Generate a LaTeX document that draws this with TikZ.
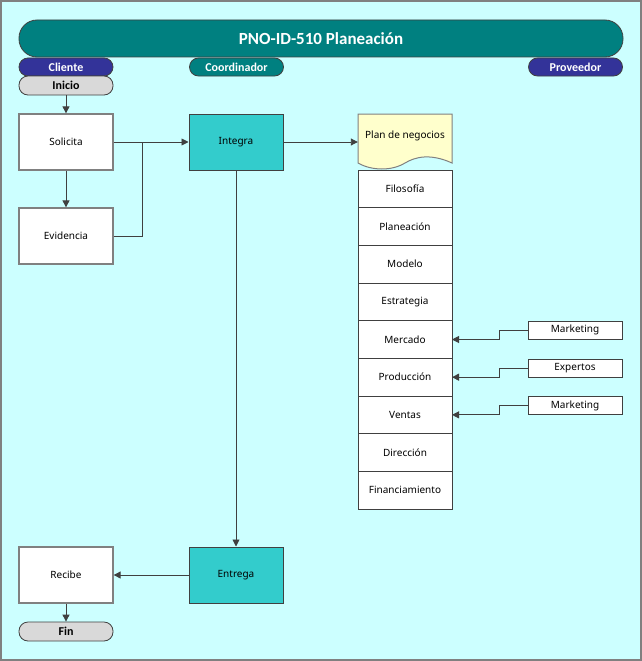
\documentclass[tikz,border=0pt]{standalone}
\usepackage{fontspec}
\setmainfont{Noto Sans}
\newfontfamily\calfont{Carlito}
\usetikzlibrary{arrows.meta}
\definecolor{bgc}{HTML}{CCFFFF}
\definecolor{tealc}{HTML}{008080}
\definecolor{navyc}{HTML}{333399}
\definecolor{cyanc}{HTML}{33CCCC}
\definecolor{grayc}{HTML}{D9D9D9}
\definecolor{yelc}{HTML}{FFFFCC}
\definecolor{linec}{HTML}{404040}
\definecolor{edgec}{HTML}{808080}
\tikzset{
  x=1pt, y=-1pt,
  txt/.style={font=\fontsize{10}{12}\selectfont, text=black},
  whitebox/.style={txt, draw=edgec, line width=1.3pt, fill=white, minimum width=94pt, minimum height=56pt, inner sep=0pt},
  cyanbox/.style={txt, draw=linec, line width=1pt, fill=cyanc, minimum width=94pt, minimum height=56pt, inner sep=0pt},
  rowbox/.style={txt, draw=linec, line width=0.8pt, fill=white, minimum width=94pt, minimum height=37.67pt, inner sep=0pt, outer sep=0pt},
  srcbox/.style={txt, draw=linec, line width=0.8pt, fill=white, minimum width=94pt, minimum height=18pt, inner sep=0pt},
  pill/.style={draw=linec, line width=0.8pt, rounded corners=9pt, minimum width=94pt, minimum height=18pt, inner sep=0pt, font=\calfont\bfseries\fontsize{12}{14}\selectfont},
  lanepill/.style={pill, text=white},
  termpill/.style={pill, fill=grayc, text=black, minimum height=19pt},
  conn/.style={draw=linec, line width=0.9pt},
  arr/.style={conn, -{Triangle[length=7pt,width=7pt]}},
}
\begin{document}
\begin{tikzpicture}
\useasboundingbox (0,0) rectangle (642,661);
\draw[draw=edgec, line width=1.5pt, fill=bgc] (1,1) rectangle (641,660);
% title
\node[draw=linec, line width=0.8pt, fill=tealc, rounded corners=18pt, minimum width=604pt, minimum height=37pt, inner sep=0pt, text=white, font=\calfont\bfseries\fontsize{17}{20}\selectfont] (title) at (321,38.5) {PNO-ID-510 Planeación};
% lanes
\node[lanepill, fill=navyc] (cliente) at (66,67) {Cliente};
\node[lanepill, fill=tealc] (coord) at (236.5,67) {Coordinador};
\node[lanepill, fill=navyc] (prov) at (575.5,67) {Proveedor};
\node[termpill] (inicio) at (66,85.5) {Inicio};
% process boxes
\node[whitebox] (solicita) at (66,142) {Solicita};
\node[whitebox] (evidencia) at (66,236) {Evidencia};
\node[cyanbox] (integra) at (236,142) {Integra};
\node[whitebox] (recibe) at (66,575) {Recibe};
\node[cyanbox] (entrega) at (236,575) {Entrega};
\node[termpill] (fin) at (66,631.5) {Fin};
% document shape
\draw[draw=edgec, line width=1pt, fill=yelc] (358,114) -- (452,114) -- (452,163)
  .. controls (430,153) and (415,157) .. (405,163)
  .. controls (392,171) and (372,171) .. (358,163) -- cycle;
\node[txt, minimum width=94pt, minimum height=40pt, inner sep=0pt] (plan) at (405,136) {Plan de negocios};
% rows
\node[rowbox, anchor=north] (r1) at (405,170) {Filosofía};
\node[rowbox, anchor=north] (r2) at (r1.south) {Planeación};
\node[rowbox, anchor=north] (r3) at (r2.south) {Modelo};
\node[rowbox, anchor=north] (r4) at (r3.south) {Estrategia};
\node[rowbox, anchor=north] (r5) at (r4.south) {Mercado};
\node[rowbox, anchor=north] (r6) at (r5.south) {Producción};
\node[rowbox, anchor=north] (r7) at (r6.south) {Ventas};
\node[rowbox, anchor=north] (r8) at (r7.south) {Dirección};
\node[rowbox, anchor=north] (r9) at (r8.south) {Financiamiento};
% sources
\node[srcbox] (m1) at (575,330) {Marketing};
\node[srcbox] (ex) at (575,368) {Expertos};
\node[srcbox] (m2) at (575,405.5) {Marketing};
% connectors
\draw[arr] (inicio.south) -- (solicita.north);
\draw[arr] (solicita.south) -- (evidencia.north);
\draw[arr] (solicita.east) -- (integra.west);
\draw[conn] (evidencia.east) -- ++(29,0) |- (solicita.east);
\draw[arr] (integra.east) -- (integra.east -| plan.west);
\draw[arr] (integra.south) -- (entrega.north);
\draw[arr] (entrega.west) -- (recibe.east);
\draw[arr] (recibe.south) -- (fin.north);
\draw[arr] (m1.west) -- ++(-28,0) |- (r5.east);
\draw[arr] (ex.west) -- ++(-28,0) |- (r6.east);
\draw[arr] (m2.west) -- ++(-28,0) |- (r7.east);
\end{tikzpicture}
\end{document}
